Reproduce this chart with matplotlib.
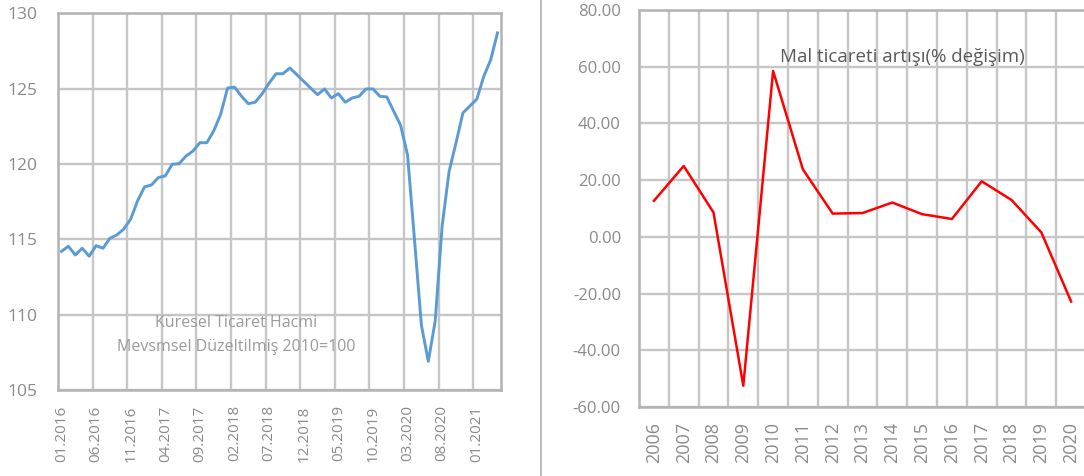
import numpy as np
import matplotlib
matplotlib.use("Agg")
import matplotlib.pyplot as plt
from matplotlib.lines import Line2D

plt.rcdefaults()
plt.rcParams['font.family'] = ['Open Sans', 'DejaVu Sans']

# ---------------- data ----------------
# Left: global trade volume, seasonally adjusted, monthly 01.2016 - 04.2021
volume = [114.2, 114.54, 113.96, 114.41, 113.88, 114.58, 114.41, 115.07, 115.29, 115.68,
          116.34, 117.56, 118.48, 118.61, 119.10, 119.21, 119.98, 120.02, 120.53, 120.86,
          121.41, 121.41, 122.2, 123.3, 125.04, 125.1, 124.5, 124.0, 124.1, 124.67,
          125.37, 125.99, 125.99, 126.37, 125.93, 125.48, 125.04, 124.6, 124.98, 124.38,
          124.67, 124.1, 124.38, 124.49, 124.98, 124.98, 124.49, 124.45, 123.5, 122.56,
          120.6, 115.0, 109.3, 106.9, 109.6, 115.9, 119.5, 121.4, 123.39, 123.85,
          124.3, 125.8, 126.9, 128.7]
volume_tick_labels = ['01.2016', '06.2016', '11.2016', '04.2017', '09.2017', '02.2018',
                      '07.2018', '12.2018', '05.2019', '10.2019', '03.2020', '08.2020',
                      '01.2021']
volume_yticks = [105, 110, 115, 120, 125, 130]
volume_note = ['Küresel Ticaret Hacmi', 'Mevsmsel Düzeltilmiş 2010=100']

# Right: merchandise trade growth (% change), yearly
years = ['2006', '2007', '2008', '2009', '2010', '2011', '2012', '2013', '2014',
         '2015', '2016', '2017', '2018', '2019', '2020']
growth = [12.7, 25.0, 8.6, -52.5, 58.5, 23.8, 8.2, 8.4, 12.1, 8.0, 6.3, 19.6, 13.0, 1.6, -22.8]
growth_yticks = [-60, -40, -20, 0, 20, 40, 60, 80]
growth_title = 'Mal ticareti artışı(% değişim)'

# ---------------- style ----------------
W, H = 1084, 476
TICK_C = '#8a8a8a'
GRID_C = '#c6c6c6'
SPINE_C = '#b3b3b3'

fig = plt.figure(figsize=(W / 100, H / 100), dpi=100)

def px_axes(l, t, r, b):
    return fig.add_axes([l / W, 1 - b / H, (r - l) / W, (b - t) / H])

def style_axes(ax):
    ax.set_axisbelow(True)
    ax.xaxis.grid(True, which='minor', color=GRID_C, lw=1.7, alpha=1, linestyle='-')
    ax.xaxis.grid(False, which='major')
    ax.yaxis.grid(True, which='major', color=GRID_C, lw=1.7, alpha=1, linestyle='-')
    for s in ax.spines.values():
        s.set_visible(True)
        s.set_color(SPINE_C)
        s.set_linewidth(1.8)

# ---------------- left chart ----------------
ax1 = px_axes(58, 13.3, 501, 390)
x1 = np.arange(len(volume))
ax1.plot(x1, volume, color='#5b9bd5', lw=2.1, solid_joinstyle='round', zorder=3)
ax1.set_xlim(-0.5, len(volume) - 0.5)
ax1.set_ylim(volume_yticks[0], volume_yticks[-1])
ax1.set_yticks(volume_yticks)
ax1.set_yticklabels([str(v) for v in volume_yticks])
ax1.set_xticks(np.arange(0, 5 * len(volume_tick_labels), 5))
ax1.set_xticklabels(volume_tick_labels, rotation=90)
ax1.set_xticks(np.arange(-0.5, len(volume) - 0.5, 5), minor=True)
ax1.tick_params(which='both', length=0)
ax1.tick_params(axis='y', labelsize=12.5, labelcolor=TICK_C, pad=15)
ax1.tick_params(axis='x', labelsize=11, labelcolor=TICK_C, pad=11)
style_axes(ax1)
ax1.text(0.402, 0.178, volume_note[0], transform=ax1.transAxes, ha='center', va='center',
         fontsize=11.5, color='#9c9a9a')
ax1.text(0.402, 0.114, volume_note[1], transform=ax1.transAxes, ha='center', va='center',
         fontsize=11.5, color='#9c9a9a')

# ---------------- right chart ----------------
ax2 = px_axes(639, 10, 1086, 407)
x2 = np.arange(len(growth))
ax2.plot(x2, growth, color='#ff0000', lw=1.8, zorder=3)
ax2.set_xlim(-0.5, len(growth) - 0.5)
ax2.set_ylim(growth_yticks[0], growth_yticks[-1])
ax2.set_yticks(growth_yticks)
ax2.set_yticklabels([f'{v:.2f}' for v in growth_yticks])
ax2.set_xticks(x2)
ax2.set_xticklabels(years, rotation=90)
ax2.set_xticks(np.arange(-0.5, len(growth), 1), minor=True)
ax2.tick_params(which='both', length=0)
ax2.tick_params(axis='y', labelsize=12, labelcolor=TICK_C, pad=13)
ax2.tick_params(axis='x', labelsize=13, labelcolor=TICK_C, pad=11)
style_axes(ax2)
ax2.text(0.315, 0.8816, growth_title, transform=ax2.transAxes, ha='left', va='center',
         fontsize=13.5, color='#595959')

# separator between the two panels
fig.add_artist(Line2D([541 / W, 541 / W], [0, 1], transform=fig.transFigure,
                      color=SPINE_C, lw=1.2))

fig.savefig('out.png', dpi=100)
